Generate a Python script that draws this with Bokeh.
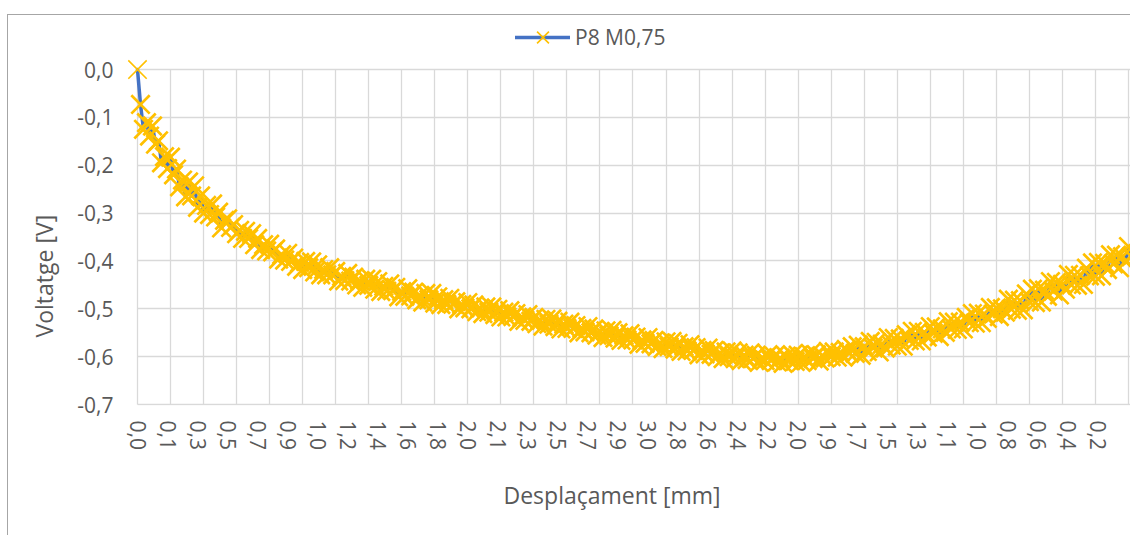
from bokeh.plotting import figure
from bokeh.models import FixedTicker, Legend, LegendItem, Title, Range1d, ColumnDataSource
from bokeh.embed import file_html
from bokeh.resources import INLINE

series_name = "P8 M0,75"

voltage = [
    0.000,
    -0.073, -0.125, -0.111, -0.139, -0.118, -0.156, -0.149, -0.195, -0.182,
    -0.207, -0.183, -0.220, -0.208, -0.245, -0.231, -0.266, -0.235, -0.264, -0.243,
    -0.288, -0.264, -0.300, -0.284, -0.303, -0.281, -0.308, -0.298, -0.331, -0.315,
    -0.312, -0.330, -0.324, -0.343, -0.336, -0.353, -0.338, -0.353, -0.343, -0.366,
    -0.353, -0.376, -0.366, -0.379, -0.365, -0.381, -0.375, -0.396, -0.387, -0.398,
    -0.384, -0.401, -0.394, -0.411, -0.403, -0.418, -0.401, -0.414, -0.402, -0.423,
    -0.408, -0.429, -0.418, -0.429, -0.414, -0.429, -0.422, -0.442, -0.432, -0.441,
    -0.426, -0.442, -0.434, -0.450, -0.441, -0.455, -0.438, -0.451, -0.438, -0.459,
    -0.443, -0.464, -0.453, -0.463, -0.448, -0.462, -0.455, -0.475, -0.464, -0.474,
    -0.458, -0.473, -0.465, -0.481, -0.472, -0.486, -0.468, -0.481, -0.468, -0.488,
    -0.475, -0.491, -0.481, -0.491, -0.478, -0.490, -0.485, -0.500, -0.491, -0.498,
    -0.487, -0.500, -0.492, -0.506, -0.498, -0.510, -0.496, -0.507, -0.496, -0.512,
    -0.501, -0.517, -0.507, -0.517, -0.504, -0.516, -0.510, -0.526, -0.517, -0.524,
    -0.512, -0.526, -0.518, -0.531, -0.523, -0.536, -0.522, -0.532, -0.521, -0.537,
    -0.526, -0.542, -0.532, -0.541, -0.528, -0.541, -0.535, -0.550, -0.541, -0.548,
    -0.537, -0.550, -0.542, -0.555, -0.547, -0.560, -0.546, -0.556, -0.545, -0.561,
    -0.550, -0.566, -0.556, -0.565, -0.552, -0.565, -0.559, -0.574, -0.565, -0.572,
    -0.560, -0.573, -0.566, -0.579, -0.571, -0.583, -0.569, -0.579, -0.568, -0.584,
    -0.572, -0.589, -0.579, -0.588, -0.575, -0.587, -0.581, -0.596, -0.587, -0.594,
    -0.582, -0.595, -0.587, -0.600, -0.592, -0.604, -0.590, -0.600, -0.588, -0.604,
    -0.592, -0.608, -0.597, -0.606, -0.592, -0.604, -0.597, -0.612, -0.602, -0.608,
    -0.596, -0.608, -0.599, -0.611, -0.603, -0.614, -0.599, -0.608, -0.596, -0.610,
    -0.597, -0.612, -0.600, -0.608, -0.593, -0.604, -0.596, -0.609, -0.598, -0.603,
    -0.589, -0.600, -0.590, -0.601, -0.591, -0.601, -0.585, -0.593, -0.579, -0.593,
    -0.576, -0.597, -0.579, -0.589, -0.568, -0.582, -0.570, -0.590, -0.574, -0.582,
    -0.560, -0.576, -0.562, -0.578, -0.563, -0.578, -0.554, -0.566, -0.547, -0.567,
    -0.547, -0.567, -0.549, -0.559, -0.537, -0.551, -0.538, -0.558, -0.542, -0.549,
    -0.527, -0.542, -0.528, -0.543, -0.528, -0.542, -0.518, -0.529, -0.510, -0.530,
    -0.509, -0.529, -0.511, -0.520, -0.497, -0.511, -0.498, -0.516, -0.500, -0.507,
    -0.480, -0.501, -0.482, -0.503, -0.483, -0.502, -0.469, -0.485, -0.459, -0.487,
    -0.458, -0.486, -0.461, -0.474, -0.443, -0.463, -0.445, -0.471, -0.449, -0.459,
    -0.428, -0.450, -0.430, -0.451, -0.430, -0.449, -0.415, -0.431, -0.404, -0.432,
    -0.403, -0.431, -0.405, -0.418, -0.387, -0.406, -0.388, -0.414, -0.391, -0.401,
    -0.370, -0.391,
]

x_tick_labels = ["0,0", "0,1", "0,3", "0,5", "0,7", "0,9", "1,0", "1,2", "1,4", "1,6",
                 "1,8", "2,0", "2,1", "2,3", "2,5", "2,7", "2,9", "3,0", "2,8", "2,6",
                 "2,4", "2,2", "2,0", "1,9", "1,7", "1,5", "1,3", "1,1", "1,0", "0,8",
                 "0,6", "0,4", "0,2"]
y_ticks = [0.0, -0.1, -0.2, -0.3, -0.4, -0.5, -0.6, -0.7]
y_tick_labels = ["0,0", "-0,1", "-0,2", "-0,3", "-0,4", "-0,5", "-0,6", "-0,7"]

label_step = 10
grid_step = 11
index = list(range(len(voltage)))
x_ticks = [k * label_step for k in range(len(x_tick_labels))]
grid_ticks = list(range(0, len(voltage), grid_step))

FONT = "Open Sans"
TXT = "#595959"
GRID = "#d9d9d9"
X_END = 331.0

# marker stroke: the isolated first point is drawn thin, the dense band thicker
stroke = [1.6] + [2.7] * (len(voltage) - 1)
src = ColumnDataSource(data=dict(i=index, v=voltage, w=stroke))

p = figure(width=1123, height=521, output_backend="svg", toolbar_location=None,
           x_range=Range1d(-3.33, X_END), y_range=Range1d(-0.702, 0.1129),
           min_border_left=119, min_border_right=0, min_border_top=0,
           min_border_bottom=131, outline_line_color=None,
           background_fill_color="white", border_fill_color="white")
p.styles = {"border-left": "1px solid #a6a6a6", "border-top": "1px solid #a6a6a6",
            "margin-left": "7px", "margin-top": "14px"}

line_r = p.line("i", "v", source=src, line_color="#4472C4", line_width=3.5,
                line_cap="round", line_join="round")
scat_r = p.scatter("i", "v", source=src, marker="x", size=26, line_color="#FFC000",
                   line_width="w")

# grids
p.xgrid.ticker = FixedTicker(ticks=grid_ticks)
p.ygrid.ticker = FixedTicker(ticks=y_ticks)
for g in (p.xgrid[0], p.ygrid[0]):
    g.grid_line_color = GRID
    g.grid_line_width = 1.3
try:
    p.xgrid[0].cross_bounds = (-0.7, 0.0)
    p.ygrid[0].cross_bounds = (0, X_END)
except Exception:
    pass

# axes
xa = p.xaxis[0]
xa.ticker = FixedTicker(ticks=x_ticks)
xa.major_label_overrides = {t: l for t, l in zip(x_ticks, x_tick_labels)}
xa.major_label_orientation = "vertical"
xa.major_label_standoff = 15

ya = p.yaxis[0]
ya.ticker = FixedTicker(ticks=y_ticks)
ya.major_label_overrides = {t: l for t, l in zip(y_ticks, y_tick_labels)}
ya.major_label_standoff = 14

for ax in (xa, ya):
    ax.axis_line_color = None
    ax.major_tick_line_color = None
    ax.minor_tick_line_color = None
    ax.major_tick_out = 0
    ax.major_tick_in = 0
    ax.major_label_text_font = FONT
    ax.major_label_text_font_size = "21px"
    ax.major_label_text_color = TXT

ytitle = Title(text="Voltatge [V]", align="left", offset=68, standoff=29,
               text_font=FONT, text_font_size="23px", text_color=TXT,
               text_font_style="normal")
p.add_layout(ytitle, "left")
xtitle = Title(text="Desplaçament [mm]", align="left", offset=376, standoff=49,
               text_font=FONT, text_font_size="23px", text_color=TXT,
               text_font_style="normal")
p.add_layout(xtitle, "below")

legend = Legend(items=[LegendItem(label=series_name, renderers=[line_r, scat_r], index=0)],
                location=(388, 347), orientation="horizontal",
                glyph_width=55, glyph_height=42, label_standoff=5,
                padding=0, margin=0, spacing=0,
                border_line_color=None, background_fill_alpha=0,
                label_text_font=FONT, label_text_font_size="21px",
                label_text_color=TXT)
p.add_layout(legend, "center")

open("out.html", "w").write(file_html(p, INLINE))
